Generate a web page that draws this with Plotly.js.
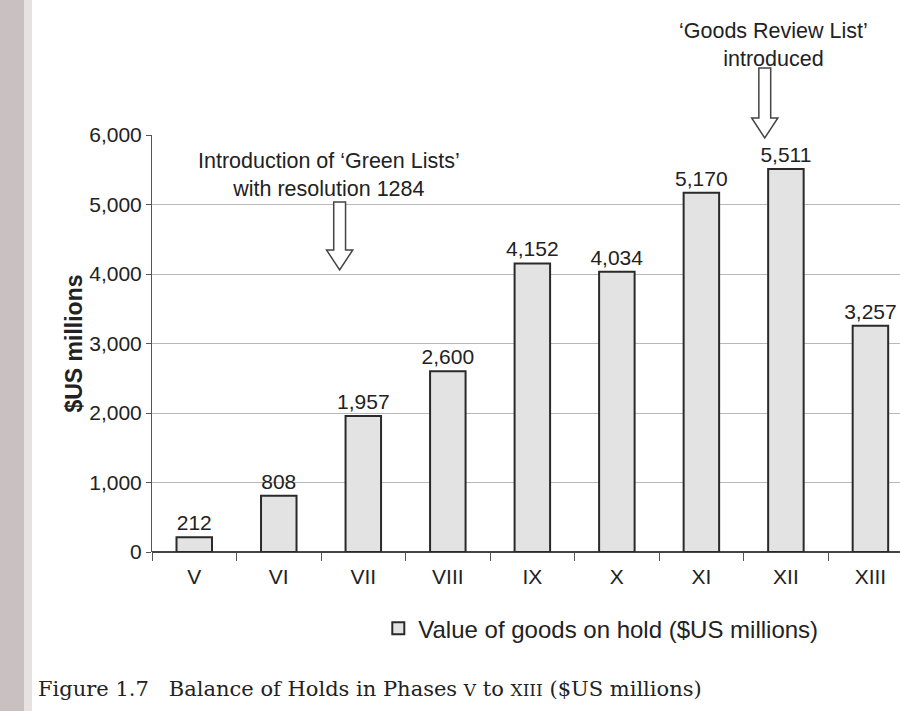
<!DOCTYPE html>
<html>
<head>
<meta charset="utf-8">
<script src="https://cdn.plot.ly/plotly-3.0.1.min.js"></script>
<style>html,body{margin:0;padding:0;background:#fff;}#chart{width:900px;height:711px;}</style>
</head>
<body>
<div id="chart"></div>
<script>
const phases = ['V', 'VI', 'VII', 'VIII', 'IX', 'X', 'XI', 'XII', 'XIII'];
const valuesOnHold = [212, 808, 1957, 2600, 4152, 4034, 5170, 5511, 3257];
const yTicks = [0, 1000, 2000, 3000, 4000, 5000, 6000];
const seriesName = 'Value of goods on hold ($US millions)';
const yTitle = '$US millions';
const note1 = 'Introduction of ‘Green Lists’<br>with resolution 1284';
const note2 = '‘Goods Review List’<br>introduced';
const caption = 'Figure 1.7   Balance of Holds in Phases <span style="font-size:17px">V</span> to <span style="font-size:17px">XIII</span> ($US millions)';

// hollow down-arrow path builder (x in category units, y in paper units)
function hollowArrow(xc, yTop, yBot, shaftHalf, headHalf, headLen) {
  const yNeck = yBot + headLen;
  return 'M' + (xc - shaftHalf) + ',' + yTop +
    ' L' + (xc + shaftHalf) + ',' + yTop +
    ' L' + (xc + shaftHalf) + ',' + yNeck +
    ' L' + (xc + headHalf) + ',' + yNeck +
    ' L' + xc + ',' + yBot +
    ' L' + (xc - headHalf) + ',' + yNeck +
    ' L' + (xc - shaftHalf) + ',' + yNeck + ' Z';
}

const trace = {
  type: 'bar',
  x: phases,
  y: valuesOnHold,
  name: seriesName,
  width: 0.42,
  marker: {color: '#e3e3e3', line: {color: '#2a2a2a', width: 2}},
  text: valuesOnHold,
  texttemplate: '%{y:,}',
  textposition: 'outside',
  constraintext: 'none',
  textfont: {family: 'Liberation Sans, Arial, sans-serif', size: 21, color: '#222'},
  cliponaxis: false,
  showlegend: true
};

const layout = {
  width: 900, height: 711,
  margin: {l: 152, r: 0, t: 135, b: 159},
  paper_bgcolor: '#ffffff',
  plot_bgcolor: '#ffffff',
  font: {family: 'Liberation Sans, Arial, sans-serif', color: '#222'},
  showlegend: true,
  legend: {
    orientation: 'h', x: 0.6, y: -0.13, xanchor: 'center', yanchor: 'top',
    font: {size: 24, color: '#222'}, bgcolor: 'rgba(0,0,0,0)'
  },
  xaxis: {
    type: 'category',
    range: [-0.5, 8.35],
    showgrid: false,
    showline: false,
    ticks: 'outside', tickson: 'boundaries', ticklen: 8, tickcolor: '#555', tickwidth: 1,
    tickfont: {size: 21, color: '#222'},
    ticklabelstandoff: 10,
    zeroline: false
  },
  yaxis: {
    range: [0, 6000],
    tickvals: yTicks,
    tickformat: ',d',
    showgrid: true, gridcolor: '#b8b8b8', gridwidth: 1,
    showline: true, linecolor: '#555', linewidth: 1,
    ticks: 'outside', ticklen: 5, tickcolor: '#555',
    tickfont: {size: 21, color: '#222'},
    zeroline: true, zerolinecolor: '#444', zerolinewidth: 1.5,
    title: {text: '<b>' + yTitle + '</b>', font: {size: 23, color: '#222'}, standoff: 0}
  },
  shapes: [
    // book binding shadow at left edge
    {type: 'rect', xref: 'paper', yref: 'paper', x0: -152/748, x1: -128/748, y0: -159/417, y1: 576/417,
      fillcolor: '#c9c1c1', line: {width: 0}, layer: 'below'},
    {type: 'rect', xref: 'paper', yref: 'paper', x0: -128/748, x1: -120/748, y0: -159/417, y1: 576/417,
      fillcolor: '#e6e2e2', line: {width: 0}, layer: 'below'},
    {type: 'path', xref: 'x', yref: 'paper', path: hollowArrow(1.72, 350/417, 282/417, 0.07, 0.155, 20/417),
      fillcolor: '#ffffff', line: {color: '#444', width: 1.5}},
    {type: 'path', xref: 'x', yref: 'paper', path: hollowArrow(6.75, 484/417, 414/417, 0.07, 0.155, 20/417),
      fillcolor: '#ffffff', line: {color: '#444', width: 1.5}}
  ],
  annotations: [
    {xref: 'x', yref: 'paper', x: 1.6, y: 405/417, text: note1, showarrow: false,
      xanchor: 'center', yanchor: 'top', font: {size: 21.5, color: '#222'}},
    {xref: 'x', yref: 'paper', x: 6.85, y: 535/417, text: note2, showarrow: false,
      xanchor: 'center', yanchor: 'top', font: {size: 21.5, color: '#222'}},
    {xref: 'paper', yref: 'paper', x: -116/748, y: -0.295, text: caption, showarrow: false,
      xanchor: 'left', yanchor: 'top', align: 'left',
      font: {family: 'DejaVu Serif, Liberation Serif, serif', size: 21, color: '#222'}}
  ]
};

Plotly.newPlot('chart', [trace], layout, {displayModeBar: false, staticPlot: true});
</script>
</body>
</html>
